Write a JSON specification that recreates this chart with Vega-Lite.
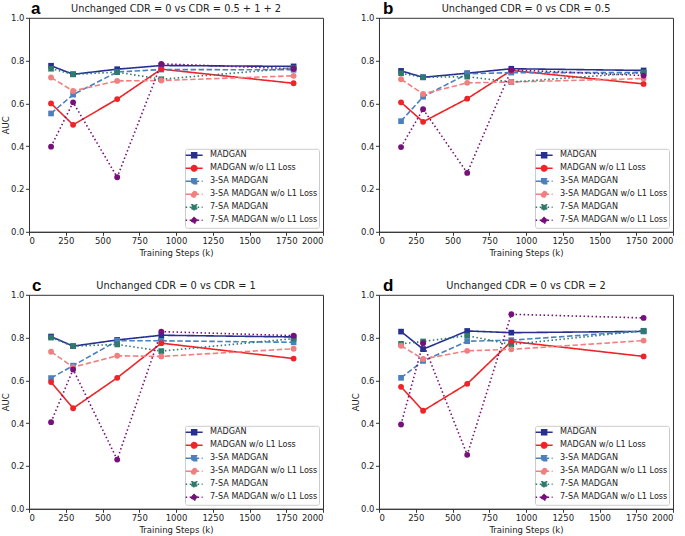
{
  "$schema": "https://vega.github.io/schema/vega-lite/v6.json",
  "padding": {"left": 0, "top": -1.2, "right": 5, "bottom": 2},
  "bounds": "flush",
  "columns": 2,
  "spacing": {"row": 63, "column": 56},
  "data": {"values": [
    {"p":"a","s":"MADGAN","x":150,"y":0.776},{"p":"a","s":"MADGAN","x":300,"y":0.736},{"p":"a","s":"MADGAN","x":600,"y":0.760},{"p":"a","s":"MADGAN","x":900,"y":0.777},{"p":"a","s":"MADGAN","x":1800,"y":0.773},
    {"p":"a","s":"MADGAN w/o L1 Loss","x":150,"y":0.600},{"p":"a","s":"MADGAN w/o L1 Loss","x":300,"y":0.500},{"p":"a","s":"MADGAN w/o L1 Loss","x":600,"y":0.620},{"p":"a","s":"MADGAN w/o L1 Loss","x":900,"y":0.760},{"p":"a","s":"MADGAN w/o L1 Loss","x":1800,"y":0.694},
    {"p":"a","s":"3-SA MADGAN","x":150,"y":0.553},{"p":"a","s":"3-SA MADGAN","x":300,"y":0.641},{"p":"a","s":"3-SA MADGAN","x":600,"y":0.747},{"p":"a","s":"3-SA MADGAN","x":900,"y":0.758},{"p":"a","s":"3-SA MADGAN","x":1800,"y":0.757},
    {"p":"a","s":"3-SA MADGAN w/o L1 Loss","x":150,"y":0.721},{"p":"a","s":"3-SA MADGAN w/o L1 Loss","x":300,"y":0.658},{"p":"a","s":"3-SA MADGAN w/o L1 Loss","x":600,"y":0.705},{"p":"a","s":"3-SA MADGAN w/o L1 Loss","x":900,"y":0.707},{"p":"a","s":"3-SA MADGAN w/o L1 Loss","x":1800,"y":0.729},
    {"p":"a","s":"7-SA MADGAN","x":150,"y":0.762},{"p":"a","s":"7-SA MADGAN","x":300,"y":0.736},{"p":"a","s":"7-SA MADGAN","x":600,"y":0.746},{"p":"a","s":"7-SA MADGAN","x":900,"y":0.713},{"p":"a","s":"7-SA MADGAN","x":1800,"y":0.765},
    {"p":"a","s":"7-SA MADGAN w/o L1 Loss","x":150,"y":0.398},{"p":"a","s":"7-SA MADGAN w/o L1 Loss","x":300,"y":0.605},{"p":"a","s":"7-SA MADGAN w/o L1 Loss","x":600,"y":0.255},{"p":"a","s":"7-SA MADGAN w/o L1 Loss","x":900,"y":0.785},{"p":"a","s":"7-SA MADGAN w/o L1 Loss","x":1800,"y":0.762},

    {"p":"b","s":"MADGAN","x":150,"y":0.752},{"p":"b","s":"MADGAN","x":300,"y":0.722},{"p":"b","s":"MADGAN","x":600,"y":0.741},{"p":"b","s":"MADGAN","x":900,"y":0.762},{"p":"b","s":"MADGAN","x":1800,"y":0.754},
    {"p":"b","s":"MADGAN w/o L1 Loss","x":150,"y":0.605},{"p":"b","s":"MADGAN w/o L1 Loss","x":300,"y":0.514},{"p":"b","s":"MADGAN w/o L1 Loss","x":600,"y":0.622},{"p":"b","s":"MADGAN w/o L1 Loss","x":900,"y":0.754},{"p":"b","s":"MADGAN w/o L1 Loss","x":1800,"y":0.691},
    {"p":"b","s":"3-SA MADGAN","x":150,"y":0.517},{"p":"b","s":"3-SA MADGAN","x":300,"y":0.631},{"p":"b","s":"3-SA MADGAN","x":600,"y":0.738},{"p":"b","s":"3-SA MADGAN","x":900,"y":0.744},{"p":"b","s":"3-SA MADGAN","x":1800,"y":0.744},
    {"p":"b","s":"3-SA MADGAN w/o L1 Loss","x":150,"y":0.713},{"p":"b","s":"3-SA MADGAN w/o L1 Loss","x":300,"y":0.644},{"p":"b","s":"3-SA MADGAN w/o L1 Loss","x":600,"y":0.696},{"p":"b","s":"3-SA MADGAN w/o L1 Loss","x":900,"y":0.700},{"p":"b","s":"3-SA MADGAN w/o L1 Loss","x":1800,"y":0.716},
    {"p":"b","s":"7-SA MADGAN","x":150,"y":0.741},{"p":"b","s":"7-SA MADGAN","x":300,"y":0.722},{"p":"b","s":"7-SA MADGAN","x":600,"y":0.725},{"p":"b","s":"7-SA MADGAN","x":900,"y":0.700},{"p":"b","s":"7-SA MADGAN","x":1800,"y":0.744},
    {"p":"b","s":"7-SA MADGAN w/o L1 Loss","x":150,"y":0.396},{"p":"b","s":"7-SA MADGAN w/o L1 Loss","x":300,"y":0.573},{"p":"b","s":"7-SA MADGAN w/o L1 Loss","x":600,"y":0.275},{"p":"b","s":"7-SA MADGAN w/o L1 Loss","x":900,"y":0.757},{"p":"b","s":"7-SA MADGAN w/o L1 Loss","x":1800,"y":0.730},

    {"p":"c","s":"MADGAN","x":150,"y":0.805},{"p":"c","s":"MADGAN","x":300,"y":0.760},{"p":"c","s":"MADGAN","x":600,"y":0.789},{"p":"c","s":"MADGAN","x":900,"y":0.811},{"p":"c","s":"MADGAN","x":1800,"y":0.803},
    {"p":"c","s":"MADGAN w/o L1 Loss","x":150,"y":0.592},{"p":"c","s":"MADGAN w/o L1 Loss","x":300,"y":0.470},{"p":"c","s":"MADGAN w/o L1 Loss","x":600,"y":0.612},{"p":"c","s":"MADGAN w/o L1 Loss","x":900,"y":0.774},{"p":"c","s":"MADGAN w/o L1 Loss","x":1800,"y":0.702},
    {"p":"c","s":"3-SA MADGAN","x":150,"y":0.611},{"p":"c","s":"3-SA MADGAN","x":300,"y":0.669},{"p":"c","s":"3-SA MADGAN","x":600,"y":0.785},{"p":"c","s":"3-SA MADGAN","x":900,"y":0.785},{"p":"c","s":"3-SA MADGAN","x":1800,"y":0.778},
    {"p":"c","s":"3-SA MADGAN w/o L1 Loss","x":150,"y":0.734},{"p":"c","s":"3-SA MADGAN w/o L1 Loss","x":300,"y":0.662},{"p":"c","s":"3-SA MADGAN w/o L1 Loss","x":600,"y":0.715},{"p":"c","s":"3-SA MADGAN w/o L1 Loss","x":900,"y":0.712},{"p":"c","s":"3-SA MADGAN w/o L1 Loss","x":1800,"y":0.748},
    {"p":"c","s":"7-SA MADGAN","x":150,"y":0.800},{"p":"c","s":"7-SA MADGAN","x":300,"y":0.760},{"p":"c","s":"7-SA MADGAN","x":600,"y":0.768},{"p":"c","s":"7-SA MADGAN","x":900,"y":0.737},{"p":"c","s":"7-SA MADGAN","x":1800,"y":0.795},
    {"p":"c","s":"7-SA MADGAN w/o L1 Loss","x":150,"y":0.405},{"p":"c","s":"7-SA MADGAN w/o L1 Loss","x":300,"y":0.651},{"p":"c","s":"7-SA MADGAN w/o L1 Loss","x":600,"y":0.230},{"p":"c","s":"7-SA MADGAN w/o L1 Loss","x":900,"y":0.828},{"p":"c","s":"7-SA MADGAN w/o L1 Loss","x":1800,"y":0.809},

    {"p":"d","s":"MADGAN","x":150,"y":0.828},{"p":"d","s":"MADGAN","x":300,"y":0.746},{"p":"d","s":"MADGAN","x":600,"y":0.831},{"p":"d","s":"MADGAN","x":900,"y":0.823},{"p":"d","s":"MADGAN","x":1800,"y":0.829},
    {"p":"d","s":"MADGAN w/o L1 Loss","x":150,"y":0.570},{"p":"d","s":"MADGAN w/o L1 Loss","x":300,"y":0.458},{"p":"d","s":"MADGAN w/o L1 Loss","x":600,"y":0.584},{"p":"d","s":"MADGAN w/o L1 Loss","x":900,"y":0.782},{"p":"d","s":"MADGAN w/o L1 Loss","x":1800,"y":0.712},
    {"p":"d","s":"3-SA MADGAN","x":150,"y":0.612},{"p":"d","s":"3-SA MADGAN","x":300,"y":0.691},{"p":"d","s":"3-SA MADGAN","x":600,"y":0.783},{"p":"d","s":"3-SA MADGAN","x":900,"y":0.788},{"p":"d","s":"3-SA MADGAN","x":1800,"y":0.831},
    {"p":"d","s":"3-SA MADGAN w/o L1 Loss","x":150,"y":0.762},{"p":"d","s":"3-SA MADGAN w/o L1 Loss","x":300,"y":0.700},{"p":"d","s":"3-SA MADGAN w/o L1 Loss","x":600,"y":0.738},{"p":"d","s":"3-SA MADGAN w/o L1 Loss","x":900,"y":0.745},{"p":"d","s":"3-SA MADGAN w/o L1 Loss","x":1800,"y":0.786},
    {"p":"d","s":"7-SA MADGAN","x":150,"y":0.771},{"p":"d","s":"7-SA MADGAN","x":300,"y":0.782},{"p":"d","s":"7-SA MADGAN","x":600,"y":0.809},{"p":"d","s":"7-SA MADGAN","x":900,"y":0.768},{"p":"d","s":"7-SA MADGAN","x":1800,"y":0.832},
    {"p":"d","s":"7-SA MADGAN w/o L1 Loss","x":150,"y":0.394},{"p":"d","s":"7-SA MADGAN w/o L1 Loss","x":300,"y":0.774},{"p":"d","s":"7-SA MADGAN w/o L1 Loss","x":600,"y":0.252},{"p":"d","s":"7-SA MADGAN w/o L1 Loss","x":900,"y":0.909},{"p":"d","s":"7-SA MADGAN w/o L1 Loss","x":1800,"y":0.892}
  ]},
  "concat": [
    {
      "width": 294, "height": 214,
      "transform": [{"filter": "datum.p == 'a'"}],
      "layer": [
        {"mark": {"type": "line", "strokeWidth": 1.6},
         "encoding": {
           "x": {"field": "x", "type": "quantitative", "scale": {"domain": [0, 2000], "nice": false}, "axis": {"values": [0,250,500,750,1000,1250,1500,1750,2000], "format": "d", "title": "Training Steps (k)"}},
           "y": {"field": "y", "type": "quantitative", "scale": {"domain": [0, 1], "nice": false}, "axis": {"values": [0,0.2,0.4,0.6,0.8,1], "format": ".1f", "title": "AUC"}},
           "color": {"field": "s", "type": "nominal", "scale": {"domain": ["MADGAN","MADGAN w/o L1 Loss","3-SA MADGAN","3-SA MADGAN w/o L1 Loss","7-SA MADGAN","7-SA MADGAN w/o L1 Loss"], "range": ["#28308f","#ee2428","#4a80bd","#f08080","#2e7a6c","#76107a"]}, "legend": {"title": null, "orient": "bottom-right", "offset": 4, "padding": 1.5, "strokeColor": "#cccccc", "fillColor": "white", "cornerRadius": 2, "labelFontSize": 8.1, "labelColor": "#222222", "symbolSize": 72, "symbolStrokeWidth": 1.5, "symbolOffset": 2.65, "labelOffset": 10.8, "rowPadding": 1, "labelLimit": 300}},
           "strokeDash": {"field": "s", "type": "nominal", "scale": {"domain": ["MADGAN","MADGAN w/o L1 Loss","3-SA MADGAN","3-SA MADGAN w/o L1 Loss","7-SA MADGAN","7-SA MADGAN w/o L1 Loss"], "range": [[1,0],[1,0],[5.5,2.5],[5.5,2.5],[1.5,2.5],[1.5,2.5]]}, "legend": {"title": null, "orient": "bottom-right", "offset": 4, "padding": 1.5, "strokeColor": "#cccccc", "fillColor": "white", "cornerRadius": 2, "labelFontSize": 8.1, "labelColor": "#222222", "symbolSize": 72, "symbolStrokeWidth": 1.5, "symbolOffset": 2.65, "labelOffset": 10.8, "rowPadding": 1, "labelLimit": 300}}
         }},
        {"transform": [{"filter": "indexof(['MADGAN','3-SA MADGAN','7-SA MADGAN'], datum.s) >= 0"}],
         "mark": {"type": "point", "shape": "square", "filled": true, "opacity": 1, "size": 32},
         "encoding": {
           "x": {"field": "x", "type": "quantitative", "scale": {"domain": [0, 2000], "nice": false}, "axis": {"values": [0,250,500,750,1000,1250,1500,1750,2000], "format": "d", "title": "Training Steps (k)"}},
           "y": {"field": "y", "type": "quantitative", "scale": {"domain": [0, 1], "nice": false}, "axis": {"values": [0,0.2,0.4,0.6,0.8,1], "format": ".1f", "title": "AUC"}},
           "color": {"field": "s", "type": "nominal", "scale": {"domain": ["MADGAN","MADGAN w/o L1 Loss","3-SA MADGAN","3-SA MADGAN w/o L1 Loss","7-SA MADGAN","7-SA MADGAN w/o L1 Loss"], "range": ["#28308f","#ee2428","#4a80bd","#f08080","#2e7a6c","#76107a"]}, "legend": {"title": null, "orient": "bottom-right", "offset": 4, "padding": 1.5, "strokeColor": "#cccccc", "fillColor": "white", "cornerRadius": 2, "labelFontSize": 8.1, "labelColor": "#222222", "symbolSize": 72, "symbolStrokeWidth": 1.5, "symbolOffset": 2.65, "labelOffset": 10.8, "rowPadding": 1, "labelLimit": 300}}
         }},
        {"transform": [{"filter": "indexof(['MADGAN','3-SA MADGAN','7-SA MADGAN'], datum.s) < 0"}],
         "mark": {"type": "point", "shape": "circle", "filled": true, "opacity": 1, "size": 34},
         "encoding": {
           "x": {"field": "x", "type": "quantitative", "scale": {"domain": [0, 2000], "nice": false}, "axis": {"values": [0,250,500,750,1000,1250,1500,1750,2000], "format": "d", "title": "Training Steps (k)"}},
           "y": {"field": "y", "type": "quantitative", "scale": {"domain": [0, 1], "nice": false}, "axis": {"values": [0,0.2,0.4,0.6,0.8,1], "format": ".1f", "title": "AUC"}},
           "color": {"field": "s", "type": "nominal", "scale": {"domain": ["MADGAN","MADGAN w/o L1 Loss","3-SA MADGAN","3-SA MADGAN w/o L1 Loss","7-SA MADGAN","7-SA MADGAN w/o L1 Loss"], "range": ["#28308f","#ee2428","#4a80bd","#f08080","#2e7a6c","#76107a"]}, "legend": {"title": null, "orient": "bottom-right", "offset": 4, "padding": 1.5, "strokeColor": "#cccccc", "fillColor": "white", "cornerRadius": 2, "labelFontSize": 8.1, "labelColor": "#222222", "symbolSize": 72, "symbolStrokeWidth": 1.5, "symbolOffset": 2.65, "labelOffset": 10.8, "rowPadding": 1, "labelLimit": 300}}
         }},
        {"transform": [{"filter": "false"}],
         "mark": {"type": "point", "filled": true, "opacity": 1, "size": 72, "strokeWidth": 1.5},
         "encoding": {
           "color": {"field": "s", "type": "nominal", "scale": {"domain": ["MADGAN","MADGAN w/o L1 Loss","3-SA MADGAN","3-SA MADGAN w/o L1 Loss","7-SA MADGAN","7-SA MADGAN w/o L1 Loss"], "range": ["#28308f","#ee2428","#4a80bd","#f08080","#2e7a6c","#76107a"]}, "legend": {"title": null, "orient": "bottom-right", "offset": 4, "padding": 1.5, "strokeColor": "#cccccc", "fillColor": "white", "cornerRadius": 2, "labelFontSize": 8.1, "labelColor": "#222222", "symbolSize": 72, "symbolStrokeWidth": 1.5, "symbolOffset": 2.65, "labelOffset": 10.8, "rowPadding": 1, "labelLimit": 300}},
           "shape": {"field": "s", "type": "nominal", "scale": {"domain": ["MADGAN","MADGAN w/o L1 Loss","3-SA MADGAN","3-SA MADGAN w/o L1 Loss","7-SA MADGAN","7-SA MADGAN w/o L1 Loss"], "range": ["M-2,0H2M-0.59,-0.59H0.59V0.59H-0.59Z","M-2,0H2M-0.65,0A0.65,0.65,0,1,0,0.65,0A0.65,0.65,0,1,0,-0.65,0Z","M-2,0H2M-0.59,-0.59H0.59V0.59H-0.59Z","M-2,0H2M-0.65,0A0.65,0.65,0,1,0,0.65,0A0.65,0.65,0,1,0,-0.65,0Z","M-2,0H2M-0.59,-0.59H0.59V0.59H-0.59Z","M-2,0H2M-0.65,0A0.65,0.65,0,1,0,0.65,0A0.65,0.65,0,1,0,-0.65,0Z"]}, "legend": {"title": null, "orient": "bottom-right", "offset": 4, "padding": 1.5, "strokeColor": "#cccccc", "fillColor": "white", "cornerRadius": 2, "labelFontSize": 8.1, "labelColor": "#222222", "symbolSize": 72, "symbolStrokeWidth": 1.5, "symbolOffset": 2.65, "labelOffset": 10.8, "rowPadding": 1, "labelLimit": 300}}
         }},
        {"data": {"values": [{"p": "a", "letter": "a", "t": "Unchanged CDR = 0 vs CDR = 0.5 + 1 + 2"}]},
         "mark": {"type": "text", "fontSize": 17, "fontWeight": "bold", "font": "Liberation Sans", "align": "left", "baseline": "alphabetic", "dx": 2, "dy": -4, "color": "#000000"},
         "encoding": {
           "x": {"datum": 0, "type": "quantitative", "scale": {"domain": [0, 2000], "nice": false}, "axis": {"values": [0,250,500,750,1000,1250,1500,1750,2000], "format": "d", "title": "Training Steps (k)"}},
           "y": {"datum": 1, "type": "quantitative", "scale": {"domain": [0, 1], "nice": false}, "axis": {"values": [0,0.2,0.4,0.6,0.8,1], "format": ".1f", "title": "AUC"}},
           "text": {"field": "letter", "type": "nominal"}
         }},
        {"data": {"values": [{"p": "a", "letter": "a", "t": "Unchanged CDR = 0 vs CDR = 0.5 + 1 + 2"}]},
         "mark": {"type": "text", "fontSize": 9.8, "font": "DejaVu Sans", "align": "center", "baseline": "alphabetic", "dy": -5.6, "color": "#222222"},
         "encoding": {
           "x": {"datum": 1000, "type": "quantitative", "scale": {"domain": [0, 2000], "nice": false}, "axis": {"values": [0,250,500,750,1000,1250,1500,1750,2000], "format": "d", "title": "Training Steps (k)"}},
           "y": {"datum": 1, "type": "quantitative", "scale": {"domain": [0, 1], "nice": false}, "axis": {"values": [0,0.2,0.4,0.6,0.8,1], "format": ".1f", "title": "AUC"}},
           "text": {"field": "t", "type": "nominal"}
         }}
      ]
    },
    {
      "width": 294, "height": 214,
      "transform": [{"filter": "datum.p == 'b'"}],
      "layer": [
        {"mark": {"type": "line", "strokeWidth": 1.6},
         "encoding": {
           "x": {"field": "x", "type": "quantitative", "scale": {"domain": [0, 2000], "nice": false}, "axis": {"values": [0,250,500,750,1000,1250,1500,1750,2000], "format": "d", "title": "Training Steps (k)"}},
           "y": {"field": "y", "type": "quantitative", "scale": {"domain": [0, 1], "nice": false}, "axis": {"values": [0,0.2,0.4,0.6,0.8,1], "format": ".1f", "title": null}},
           "color": {"field": "s", "type": "nominal", "scale": {"domain": ["MADGAN","MADGAN w/o L1 Loss","3-SA MADGAN","3-SA MADGAN w/o L1 Loss","7-SA MADGAN","7-SA MADGAN w/o L1 Loss"], "range": ["#28308f","#ee2428","#4a80bd","#f08080","#2e7a6c","#76107a"]}, "legend": {"title": null, "orient": "bottom-right", "offset": 4, "padding": 1.5, "strokeColor": "#cccccc", "fillColor": "white", "cornerRadius": 2, "labelFontSize": 8.1, "labelColor": "#222222", "symbolSize": 72, "symbolStrokeWidth": 1.5, "symbolOffset": 2.65, "labelOffset": 10.8, "rowPadding": 1, "labelLimit": 300}},
           "strokeDash": {"field": "s", "type": "nominal", "scale": {"domain": ["MADGAN","MADGAN w/o L1 Loss","3-SA MADGAN","3-SA MADGAN w/o L1 Loss","7-SA MADGAN","7-SA MADGAN w/o L1 Loss"], "range": [[1,0],[1,0],[5.5,2.5],[5.5,2.5],[1.5,2.5],[1.5,2.5]]}, "legend": {"title": null, "orient": "bottom-right", "offset": 4, "padding": 1.5, "strokeColor": "#cccccc", "fillColor": "white", "cornerRadius": 2, "labelFontSize": 8.1, "labelColor": "#222222", "symbolSize": 72, "symbolStrokeWidth": 1.5, "symbolOffset": 2.65, "labelOffset": 10.8, "rowPadding": 1, "labelLimit": 300}}
         }},
        {"transform": [{"filter": "indexof(['MADGAN','3-SA MADGAN','7-SA MADGAN'], datum.s) >= 0"}],
         "mark": {"type": "point", "shape": "square", "filled": true, "opacity": 1, "size": 32},
         "encoding": {
           "x": {"field": "x", "type": "quantitative", "scale": {"domain": [0, 2000], "nice": false}, "axis": {"values": [0,250,500,750,1000,1250,1500,1750,2000], "format": "d", "title": "Training Steps (k)"}},
           "y": {"field": "y", "type": "quantitative", "scale": {"domain": [0, 1], "nice": false}, "axis": {"values": [0,0.2,0.4,0.6,0.8,1], "format": ".1f", "title": null}},
           "color": {"field": "s", "type": "nominal", "scale": {"domain": ["MADGAN","MADGAN w/o L1 Loss","3-SA MADGAN","3-SA MADGAN w/o L1 Loss","7-SA MADGAN","7-SA MADGAN w/o L1 Loss"], "range": ["#28308f","#ee2428","#4a80bd","#f08080","#2e7a6c","#76107a"]}, "legend": {"title": null, "orient": "bottom-right", "offset": 4, "padding": 1.5, "strokeColor": "#cccccc", "fillColor": "white", "cornerRadius": 2, "labelFontSize": 8.1, "labelColor": "#222222", "symbolSize": 72, "symbolStrokeWidth": 1.5, "symbolOffset": 2.65, "labelOffset": 10.8, "rowPadding": 1, "labelLimit": 300}}
         }},
        {"transform": [{"filter": "indexof(['MADGAN','3-SA MADGAN','7-SA MADGAN'], datum.s) < 0"}],
         "mark": {"type": "point", "shape": "circle", "filled": true, "opacity": 1, "size": 34},
         "encoding": {
           "x": {"field": "x", "type": "quantitative", "scale": {"domain": [0, 2000], "nice": false}, "axis": {"values": [0,250,500,750,1000,1250,1500,1750,2000], "format": "d", "title": "Training Steps (k)"}},
           "y": {"field": "y", "type": "quantitative", "scale": {"domain": [0, 1], "nice": false}, "axis": {"values": [0,0.2,0.4,0.6,0.8,1], "format": ".1f", "title": null}},
           "color": {"field": "s", "type": "nominal", "scale": {"domain": ["MADGAN","MADGAN w/o L1 Loss","3-SA MADGAN","3-SA MADGAN w/o L1 Loss","7-SA MADGAN","7-SA MADGAN w/o L1 Loss"], "range": ["#28308f","#ee2428","#4a80bd","#f08080","#2e7a6c","#76107a"]}, "legend": {"title": null, "orient": "bottom-right", "offset": 4, "padding": 1.5, "strokeColor": "#cccccc", "fillColor": "white", "cornerRadius": 2, "labelFontSize": 8.1, "labelColor": "#222222", "symbolSize": 72, "symbolStrokeWidth": 1.5, "symbolOffset": 2.65, "labelOffset": 10.8, "rowPadding": 1, "labelLimit": 300}}
         }},
        {"transform": [{"filter": "false"}],
         "mark": {"type": "point", "filled": true, "opacity": 1, "size": 72, "strokeWidth": 1.5},
         "encoding": {
           "color": {"field": "s", "type": "nominal", "scale": {"domain": ["MADGAN","MADGAN w/o L1 Loss","3-SA MADGAN","3-SA MADGAN w/o L1 Loss","7-SA MADGAN","7-SA MADGAN w/o L1 Loss"], "range": ["#28308f","#ee2428","#4a80bd","#f08080","#2e7a6c","#76107a"]}, "legend": {"title": null, "orient": "bottom-right", "offset": 4, "padding": 1.5, "strokeColor": "#cccccc", "fillColor": "white", "cornerRadius": 2, "labelFontSize": 8.1, "labelColor": "#222222", "symbolSize": 72, "symbolStrokeWidth": 1.5, "symbolOffset": 2.65, "labelOffset": 10.8, "rowPadding": 1, "labelLimit": 300}},
           "shape": {"field": "s", "type": "nominal", "scale": {"domain": ["MADGAN","MADGAN w/o L1 Loss","3-SA MADGAN","3-SA MADGAN w/o L1 Loss","7-SA MADGAN","7-SA MADGAN w/o L1 Loss"], "range": ["M-2,0H2M-0.59,-0.59H0.59V0.59H-0.59Z","M-2,0H2M-0.65,0A0.65,0.65,0,1,0,0.65,0A0.65,0.65,0,1,0,-0.65,0Z","M-2,0H2M-0.59,-0.59H0.59V0.59H-0.59Z","M-2,0H2M-0.65,0A0.65,0.65,0,1,0,0.65,0A0.65,0.65,0,1,0,-0.65,0Z","M-2,0H2M-0.59,-0.59H0.59V0.59H-0.59Z","M-2,0H2M-0.65,0A0.65,0.65,0,1,0,0.65,0A0.65,0.65,0,1,0,-0.65,0Z"]}, "legend": {"title": null, "orient": "bottom-right", "offset": 4, "padding": 1.5, "strokeColor": "#cccccc", "fillColor": "white", "cornerRadius": 2, "labelFontSize": 8.1, "labelColor": "#222222", "symbolSize": 72, "symbolStrokeWidth": 1.5, "symbolOffset": 2.65, "labelOffset": 10.8, "rowPadding": 1, "labelLimit": 300}}
         }},
        {"data": {"values": [{"p": "b", "letter": "b", "t": "Unchanged CDR = 0 vs CDR = 0.5"}]},
         "mark": {"type": "text", "fontSize": 17, "fontWeight": "bold", "font": "Liberation Sans", "align": "left", "baseline": "alphabetic", "dx": 4, "dy": -4, "color": "#000000"},
         "encoding": {
           "x": {"datum": 0, "type": "quantitative", "scale": {"domain": [0, 2000], "nice": false}, "axis": {"values": [0,250,500,750,1000,1250,1500,1750,2000], "format": "d", "title": "Training Steps (k)"}},
           "y": {"datum": 1, "type": "quantitative", "scale": {"domain": [0, 1], "nice": false}, "axis": {"values": [0,0.2,0.4,0.6,0.8,1], "format": ".1f", "title": null}},
           "text": {"field": "letter", "type": "nominal"}
         }},
        {"data": {"values": [{"p": "b", "letter": "b", "t": "Unchanged CDR = 0 vs CDR = 0.5"}]},
         "mark": {"type": "text", "fontSize": 9.8, "font": "DejaVu Sans", "align": "center", "baseline": "alphabetic", "dy": -5.6, "color": "#222222"},
         "encoding": {
           "x": {"datum": 1000, "type": "quantitative", "scale": {"domain": [0, 2000], "nice": false}, "axis": {"values": [0,250,500,750,1000,1250,1500,1750,2000], "format": "d", "title": "Training Steps (k)"}},
           "y": {"datum": 1, "type": "quantitative", "scale": {"domain": [0, 1], "nice": false}, "axis": {"values": [0,0.2,0.4,0.6,0.8,1], "format": ".1f", "title": null}},
           "text": {"field": "t", "type": "nominal"}
         }}
      ]
    },
    {
      "width": 294, "height": 214,
      "transform": [{"filter": "datum.p == 'c'"}],
      "layer": [
        {"mark": {"type": "line", "strokeWidth": 1.6},
         "encoding": {
           "x": {"field": "x", "type": "quantitative", "scale": {"domain": [0, 2000], "nice": false}, "axis": {"values": [0,250,500,750,1000,1250,1500,1750,2000], "format": "d", "title": "Training Steps (k)"}},
           "y": {"field": "y", "type": "quantitative", "scale": {"domain": [0, 1], "nice": false}, "axis": {"values": [0,0.2,0.4,0.6,0.8,1], "format": ".1f", "title": "AUC"}},
           "color": {"field": "s", "type": "nominal", "scale": {"domain": ["MADGAN","MADGAN w/o L1 Loss","3-SA MADGAN","3-SA MADGAN w/o L1 Loss","7-SA MADGAN","7-SA MADGAN w/o L1 Loss"], "range": ["#28308f","#ee2428","#4a80bd","#f08080","#2e7a6c","#76107a"]}, "legend": {"title": null, "orient": "bottom-right", "offset": 4, "padding": 1.5, "strokeColor": "#cccccc", "fillColor": "white", "cornerRadius": 2, "labelFontSize": 8.1, "labelColor": "#222222", "symbolSize": 72, "symbolStrokeWidth": 1.5, "symbolOffset": 2.65, "labelOffset": 10.8, "rowPadding": 1, "labelLimit": 300}},
           "strokeDash": {"field": "s", "type": "nominal", "scale": {"domain": ["MADGAN","MADGAN w/o L1 Loss","3-SA MADGAN","3-SA MADGAN w/o L1 Loss","7-SA MADGAN","7-SA MADGAN w/o L1 Loss"], "range": [[1,0],[1,0],[5.5,2.5],[5.5,2.5],[1.5,2.5],[1.5,2.5]]}, "legend": {"title": null, "orient": "bottom-right", "offset": 4, "padding": 1.5, "strokeColor": "#cccccc", "fillColor": "white", "cornerRadius": 2, "labelFontSize": 8.1, "labelColor": "#222222", "symbolSize": 72, "symbolStrokeWidth": 1.5, "symbolOffset": 2.65, "labelOffset": 10.8, "rowPadding": 1, "labelLimit": 300}}
         }},
        {"transform": [{"filter": "indexof(['MADGAN','3-SA MADGAN','7-SA MADGAN'], datum.s) >= 0"}],
         "mark": {"type": "point", "shape": "square", "filled": true, "opacity": 1, "size": 32},
         "encoding": {
           "x": {"field": "x", "type": "quantitative", "scale": {"domain": [0, 2000], "nice": false}, "axis": {"values": [0,250,500,750,1000,1250,1500,1750,2000], "format": "d", "title": "Training Steps (k)"}},
           "y": {"field": "y", "type": "quantitative", "scale": {"domain": [0, 1], "nice": false}, "axis": {"values": [0,0.2,0.4,0.6,0.8,1], "format": ".1f", "title": "AUC"}},
           "color": {"field": "s", "type": "nominal", "scale": {"domain": ["MADGAN","MADGAN w/o L1 Loss","3-SA MADGAN","3-SA MADGAN w/o L1 Loss","7-SA MADGAN","7-SA MADGAN w/o L1 Loss"], "range": ["#28308f","#ee2428","#4a80bd","#f08080","#2e7a6c","#76107a"]}, "legend": {"title": null, "orient": "bottom-right", "offset": 4, "padding": 1.5, "strokeColor": "#cccccc", "fillColor": "white", "cornerRadius": 2, "labelFontSize": 8.1, "labelColor": "#222222", "symbolSize": 72, "symbolStrokeWidth": 1.5, "symbolOffset": 2.65, "labelOffset": 10.8, "rowPadding": 1, "labelLimit": 300}}
         }},
        {"transform": [{"filter": "indexof(['MADGAN','3-SA MADGAN','7-SA MADGAN'], datum.s) < 0"}],
         "mark": {"type": "point", "shape": "circle", "filled": true, "opacity": 1, "size": 34},
         "encoding": {
           "x": {"field": "x", "type": "quantitative", "scale": {"domain": [0, 2000], "nice": false}, "axis": {"values": [0,250,500,750,1000,1250,1500,1750,2000], "format": "d", "title": "Training Steps (k)"}},
           "y": {"field": "y", "type": "quantitative", "scale": {"domain": [0, 1], "nice": false}, "axis": {"values": [0,0.2,0.4,0.6,0.8,1], "format": ".1f", "title": "AUC"}},
           "color": {"field": "s", "type": "nominal", "scale": {"domain": ["MADGAN","MADGAN w/o L1 Loss","3-SA MADGAN","3-SA MADGAN w/o L1 Loss","7-SA MADGAN","7-SA MADGAN w/o L1 Loss"], "range": ["#28308f","#ee2428","#4a80bd","#f08080","#2e7a6c","#76107a"]}, "legend": {"title": null, "orient": "bottom-right", "offset": 4, "padding": 1.5, "strokeColor": "#cccccc", "fillColor": "white", "cornerRadius": 2, "labelFontSize": 8.1, "labelColor": "#222222", "symbolSize": 72, "symbolStrokeWidth": 1.5, "symbolOffset": 2.65, "labelOffset": 10.8, "rowPadding": 1, "labelLimit": 300}}
         }},
        {"transform": [{"filter": "false"}],
         "mark": {"type": "point", "filled": true, "opacity": 1, "size": 72, "strokeWidth": 1.5},
         "encoding": {
           "color": {"field": "s", "type": "nominal", "scale": {"domain": ["MADGAN","MADGAN w/o L1 Loss","3-SA MADGAN","3-SA MADGAN w/o L1 Loss","7-SA MADGAN","7-SA MADGAN w/o L1 Loss"], "range": ["#28308f","#ee2428","#4a80bd","#f08080","#2e7a6c","#76107a"]}, "legend": {"title": null, "orient": "bottom-right", "offset": 4, "padding": 1.5, "strokeColor": "#cccccc", "fillColor": "white", "cornerRadius": 2, "labelFontSize": 8.1, "labelColor": "#222222", "symbolSize": 72, "symbolStrokeWidth": 1.5, "symbolOffset": 2.65, "labelOffset": 10.8, "rowPadding": 1, "labelLimit": 300}},
           "shape": {"field": "s", "type": "nominal", "scale": {"domain": ["MADGAN","MADGAN w/o L1 Loss","3-SA MADGAN","3-SA MADGAN w/o L1 Loss","7-SA MADGAN","7-SA MADGAN w/o L1 Loss"], "range": ["M-2,0H2M-0.59,-0.59H0.59V0.59H-0.59Z","M-2,0H2M-0.65,0A0.65,0.65,0,1,0,0.65,0A0.65,0.65,0,1,0,-0.65,0Z","M-2,0H2M-0.59,-0.59H0.59V0.59H-0.59Z","M-2,0H2M-0.65,0A0.65,0.65,0,1,0,0.65,0A0.65,0.65,0,1,0,-0.65,0Z","M-2,0H2M-0.59,-0.59H0.59V0.59H-0.59Z","M-2,0H2M-0.65,0A0.65,0.65,0,1,0,0.65,0A0.65,0.65,0,1,0,-0.65,0Z"]}, "legend": {"title": null, "orient": "bottom-right", "offset": 4, "padding": 1.5, "strokeColor": "#cccccc", "fillColor": "white", "cornerRadius": 2, "labelFontSize": 8.1, "labelColor": "#222222", "symbolSize": 72, "symbolStrokeWidth": 1.5, "symbolOffset": 2.65, "labelOffset": 10.8, "rowPadding": 1, "labelLimit": 300}}
         }},
        {"data": {"values": [{"p": "c", "letter": "c", "t": "Unchanged CDR = 0 vs CDR = 1"}]},
         "mark": {"type": "text", "fontSize": 17, "fontWeight": "bold", "font": "Liberation Sans", "align": "left", "baseline": "alphabetic", "dx": 3, "dy": -4, "color": "#000000"},
         "encoding": {
           "x": {"datum": 0, "type": "quantitative", "scale": {"domain": [0, 2000], "nice": false}, "axis": {"values": [0,250,500,750,1000,1250,1500,1750,2000], "format": "d", "title": "Training Steps (k)"}},
           "y": {"datum": 1, "type": "quantitative", "scale": {"domain": [0, 1], "nice": false}, "axis": {"values": [0,0.2,0.4,0.6,0.8,1], "format": ".1f", "title": "AUC"}},
           "text": {"field": "letter", "type": "nominal"}
         }},
        {"data": {"values": [{"p": "c", "letter": "c", "t": "Unchanged CDR = 0 vs CDR = 1"}]},
         "mark": {"type": "text", "fontSize": 9.8, "font": "DejaVu Sans", "align": "center", "baseline": "alphabetic", "dy": -5.6, "color": "#222222"},
         "encoding": {
           "x": {"datum": 1000, "type": "quantitative", "scale": {"domain": [0, 2000], "nice": false}, "axis": {"values": [0,250,500,750,1000,1250,1500,1750,2000], "format": "d", "title": "Training Steps (k)"}},
           "y": {"datum": 1, "type": "quantitative", "scale": {"domain": [0, 1], "nice": false}, "axis": {"values": [0,0.2,0.4,0.6,0.8,1], "format": ".1f", "title": "AUC"}},
           "text": {"field": "t", "type": "nominal"}
         }}
      ]
    },
    {
      "width": 294, "height": 214,
      "transform": [{"filter": "datum.p == 'd'"}],
      "layer": [
        {"mark": {"type": "line", "strokeWidth": 1.6},
         "encoding": {
           "x": {"field": "x", "type": "quantitative", "scale": {"domain": [0, 2000], "nice": false}, "axis": {"values": [0,250,500,750,1000,1250,1500,1750,2000], "format": "d", "title": "Training Steps (k)"}},
           "y": {"field": "y", "type": "quantitative", "scale": {"domain": [0, 1], "nice": false}, "axis": {"values": [0,0.2,0.4,0.6,0.8,1], "format": ".1f", "title": "AUC"}},
           "color": {"field": "s", "type": "nominal", "scale": {"domain": ["MADGAN","MADGAN w/o L1 Loss","3-SA MADGAN","3-SA MADGAN w/o L1 Loss","7-SA MADGAN","7-SA MADGAN w/o L1 Loss"], "range": ["#28308f","#ee2428","#4a80bd","#f08080","#2e7a6c","#76107a"]}, "legend": {"title": null, "orient": "bottom-right", "offset": 4, "padding": 1.5, "strokeColor": "#cccccc", "fillColor": "white", "cornerRadius": 2, "labelFontSize": 8.1, "labelColor": "#222222", "symbolSize": 72, "symbolStrokeWidth": 1.5, "symbolOffset": 2.65, "labelOffset": 10.8, "rowPadding": 1, "labelLimit": 300}},
           "strokeDash": {"field": "s", "type": "nominal", "scale": {"domain": ["MADGAN","MADGAN w/o L1 Loss","3-SA MADGAN","3-SA MADGAN w/o L1 Loss","7-SA MADGAN","7-SA MADGAN w/o L1 Loss"], "range": [[1,0],[1,0],[5.5,2.5],[5.5,2.5],[1.5,2.5],[1.5,2.5]]}, "legend": {"title": null, "orient": "bottom-right", "offset": 4, "padding": 1.5, "strokeColor": "#cccccc", "fillColor": "white", "cornerRadius": 2, "labelFontSize": 8.1, "labelColor": "#222222", "symbolSize": 72, "symbolStrokeWidth": 1.5, "symbolOffset": 2.65, "labelOffset": 10.8, "rowPadding": 1, "labelLimit": 300}}
         }},
        {"transform": [{"filter": "indexof(['MADGAN','3-SA MADGAN','7-SA MADGAN'], datum.s) >= 0"}],
         "mark": {"type": "point", "shape": "square", "filled": true, "opacity": 1, "size": 32},
         "encoding": {
           "x": {"field": "x", "type": "quantitative", "scale": {"domain": [0, 2000], "nice": false}, "axis": {"values": [0,250,500,750,1000,1250,1500,1750,2000], "format": "d", "title": "Training Steps (k)"}},
           "y": {"field": "y", "type": "quantitative", "scale": {"domain": [0, 1], "nice": false}, "axis": {"values": [0,0.2,0.4,0.6,0.8,1], "format": ".1f", "title": "AUC"}},
           "color": {"field": "s", "type": "nominal", "scale": {"domain": ["MADGAN","MADGAN w/o L1 Loss","3-SA MADGAN","3-SA MADGAN w/o L1 Loss","7-SA MADGAN","7-SA MADGAN w/o L1 Loss"], "range": ["#28308f","#ee2428","#4a80bd","#f08080","#2e7a6c","#76107a"]}, "legend": {"title": null, "orient": "bottom-right", "offset": 4, "padding": 1.5, "strokeColor": "#cccccc", "fillColor": "white", "cornerRadius": 2, "labelFontSize": 8.1, "labelColor": "#222222", "symbolSize": 72, "symbolStrokeWidth": 1.5, "symbolOffset": 2.65, "labelOffset": 10.8, "rowPadding": 1, "labelLimit": 300}}
         }},
        {"transform": [{"filter": "indexof(['MADGAN','3-SA MADGAN','7-SA MADGAN'], datum.s) < 0"}],
         "mark": {"type": "point", "shape": "circle", "filled": true, "opacity": 1, "size": 34},
         "encoding": {
           "x": {"field": "x", "type": "quantitative", "scale": {"domain": [0, 2000], "nice": false}, "axis": {"values": [0,250,500,750,1000,1250,1500,1750,2000], "format": "d", "title": "Training Steps (k)"}},
           "y": {"field": "y", "type": "quantitative", "scale": {"domain": [0, 1], "nice": false}, "axis": {"values": [0,0.2,0.4,0.6,0.8,1], "format": ".1f", "title": "AUC"}},
           "color": {"field": "s", "type": "nominal", "scale": {"domain": ["MADGAN","MADGAN w/o L1 Loss","3-SA MADGAN","3-SA MADGAN w/o L1 Loss","7-SA MADGAN","7-SA MADGAN w/o L1 Loss"], "range": ["#28308f","#ee2428","#4a80bd","#f08080","#2e7a6c","#76107a"]}, "legend": {"title": null, "orient": "bottom-right", "offset": 4, "padding": 1.5, "strokeColor": "#cccccc", "fillColor": "white", "cornerRadius": 2, "labelFontSize": 8.1, "labelColor": "#222222", "symbolSize": 72, "symbolStrokeWidth": 1.5, "symbolOffset": 2.65, "labelOffset": 10.8, "rowPadding": 1, "labelLimit": 300}}
         }},
        {"transform": [{"filter": "false"}],
         "mark": {"type": "point", "filled": true, "opacity": 1, "size": 72, "strokeWidth": 1.5},
         "encoding": {
           "color": {"field": "s", "type": "nominal", "scale": {"domain": ["MADGAN","MADGAN w/o L1 Loss","3-SA MADGAN","3-SA MADGAN w/o L1 Loss","7-SA MADGAN","7-SA MADGAN w/o L1 Loss"], "range": ["#28308f","#ee2428","#4a80bd","#f08080","#2e7a6c","#76107a"]}, "legend": {"title": null, "orient": "bottom-right", "offset": 4, "padding": 1.5, "strokeColor": "#cccccc", "fillColor": "white", "cornerRadius": 2, "labelFontSize": 8.1, "labelColor": "#222222", "symbolSize": 72, "symbolStrokeWidth": 1.5, "symbolOffset": 2.65, "labelOffset": 10.8, "rowPadding": 1, "labelLimit": 300}},
           "shape": {"field": "s", "type": "nominal", "scale": {"domain": ["MADGAN","MADGAN w/o L1 Loss","3-SA MADGAN","3-SA MADGAN w/o L1 Loss","7-SA MADGAN","7-SA MADGAN w/o L1 Loss"], "range": ["M-2,0H2M-0.59,-0.59H0.59V0.59H-0.59Z","M-2,0H2M-0.65,0A0.65,0.65,0,1,0,0.65,0A0.65,0.65,0,1,0,-0.65,0Z","M-2,0H2M-0.59,-0.59H0.59V0.59H-0.59Z","M-2,0H2M-0.65,0A0.65,0.65,0,1,0,0.65,0A0.65,0.65,0,1,0,-0.65,0Z","M-2,0H2M-0.59,-0.59H0.59V0.59H-0.59Z","M-2,0H2M-0.65,0A0.65,0.65,0,1,0,0.65,0A0.65,0.65,0,1,0,-0.65,0Z"]}, "legend": {"title": null, "orient": "bottom-right", "offset": 4, "padding": 1.5, "strokeColor": "#cccccc", "fillColor": "white", "cornerRadius": 2, "labelFontSize": 8.1, "labelColor": "#222222", "symbolSize": 72, "symbolStrokeWidth": 1.5, "symbolOffset": 2.65, "labelOffset": 10.8, "rowPadding": 1, "labelLimit": 300}}
         }},
        {"data": {"values": [{"p": "d", "letter": "d", "t": "Unchanged CDR = 0 vs CDR = 2"}]},
         "mark": {"type": "text", "fontSize": 17, "fontWeight": "bold", "font": "Liberation Sans", "align": "left", "baseline": "alphabetic", "dx": 4, "dy": -4, "color": "#000000"},
         "encoding": {
           "x": {"datum": 0, "type": "quantitative", "scale": {"domain": [0, 2000], "nice": false}, "axis": {"values": [0,250,500,750,1000,1250,1500,1750,2000], "format": "d", "title": "Training Steps (k)"}},
           "y": {"datum": 1, "type": "quantitative", "scale": {"domain": [0, 1], "nice": false}, "axis": {"values": [0,0.2,0.4,0.6,0.8,1], "format": ".1f", "title": "AUC"}},
           "text": {"field": "letter", "type": "nominal"}
         }},
        {"data": {"values": [{"p": "d", "letter": "d", "t": "Unchanged CDR = 0 vs CDR = 2"}]},
         "mark": {"type": "text", "fontSize": 9.8, "font": "DejaVu Sans", "align": "center", "baseline": "alphabetic", "dy": -5.6, "color": "#222222"},
         "encoding": {
           "x": {"datum": 1000, "type": "quantitative", "scale": {"domain": [0, 2000], "nice": false}, "axis": {"values": [0,250,500,750,1000,1250,1500,1750,2000], "format": "d", "title": "Training Steps (k)"}},
           "y": {"datum": 1, "type": "quantitative", "scale": {"domain": [0, 1], "nice": false}, "axis": {"values": [0,0.2,0.4,0.6,0.8,1], "format": ".1f", "title": "AUC"}},
           "text": {"field": "t", "type": "nominal"}
         }}
      ]
    }
  ],
  "resolve": {
    "scale": {"x": "independent", "y": "independent", "color": "independent", "shape": "independent", "strokeDash": "independent"},
    "legend": {"color": "independent", "shape": "independent", "strokeDash": "independent"}
  },
  "config": {
    "font": "DejaVu Sans",
    "view": {"stroke": "#333333", "strokeWidth": 1},
    "axis": {"grid": false, "domainColor": "#333333", "tickColor": "#333333", "labelColor": "#222222", "titleColor": "#222222", "labelFont": "DejaVu Sans", "titleFont": "DejaVu Sans", "labelFontSize": 8.5, "titleFontSize": 8.5, "titleFontWeight": "normal", "tickSize": 3.5, "labelPadding": 1.5},
    "axisY": {"titlePadding": 0},
    "axisX": {"titlePadding": 3},
    "legend": {"labelFont": "DejaVu Sans"}
  }
}
